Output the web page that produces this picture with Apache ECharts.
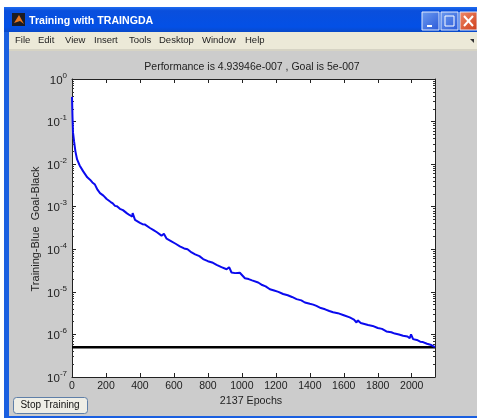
<!DOCTYPE html>
<html><head><meta charset="utf-8">
<style>html,body{margin:0;padding:0;background:#fff}#c{width:477px;height:420px;filter:blur(0.45px)}</style>
<script src="https://cdn.jsdelivr.net/npm/echarts@6/dist/echarts.min.js"></script>
</head><body><div id="c"></div>
<script>
const epochs = [0,3,6,12,20,30,45,66,76,90,106,120,135,150,165,185,204,228,240,253,265,282,300,310,322,340,355,357,371,400,415,430,459,480,500,527,541,557,580,610,635,660,680,704,725,750,772,800,825,851,880,910,925,939,960,988,1018,1040,1060,1096,1120,1140,1165,1190,1215,1243,1270,1295,1322,1350,1371,1400,1420,1439,1465,1490,1515,1537,1565,1600,1635,1645,1660,1675,1682,1700,1743,1770,1800,1825,1851,1880,1900,1925,1949,1975,1988,1996,2008,2030,2050,2066,2090,2115,2137];
const logPerf = [-0.42,-0.9,-1.26,-1.46,-1.7,-1.89,-2.03,-2.17,-2.21,-2.31,-2.365,-2.43,-2.48,-2.6,-2.68,-2.74,-2.82,-2.89,-2.92,-2.98,-2.99,-3.05,-3.08,-3.07,-3.15,-3.2,-3.23,-3.15,-3.31,-3.38,-3.41,-3.42,-3.5,-3.55,-3.6,-3.68,-3.635,-3.75,-3.8,-3.87,-3.93,-3.98,-4.0,-4.075,-4.12,-4.16,-4.23,-4.28,-4.31,-4.365,-4.42,-4.47,-4.42,-4.545,-4.56,-4.55,-4.68,-4.7,-4.73,-4.78,-4.84,-4.87,-4.94,-4.97,-5.0,-5.05,-5.08,-5.12,-5.17,-5.2,-5.25,-5.28,-5.3,-5.33,-5.38,-5.41,-5.45,-5.48,-5.5,-5.55,-5.6,-5.56,-5.65,-5.72,-5.67,-5.73,-5.78,-5.8,-5.85,-5.87,-5.93,-5.95,-5.98,-6.0,-6.03,-6.05,-6.09,-6.0,-6.11,-6.13,-6.17,-6.18,-6.22,-6.25,-6.3];
const goalEpochs = [0,2137];
const goalValues = [5e-7,5e-7];
const xTickValues = [0,200,400,600,800,1000,1200,1400,1600,1800,2000];
const titleText = 'Performance is 4.93946e-007 , Goal is 5e-007';
const xName = '2137 Epochs';
const yName = 'Training-Blue  Goal-Black';
const windowTitle = 'Training with TRAINGDA';
const stopLabel = 'Stop Training';
const menuLabels = ['File','Edit','View','Insert','Tools','Desktop','Window','Help'];
const menuLefts = [15,38,65,94,129,159,202,245];

const FONT = '"Liberation Sans", Arial, sans-serif';
const chart = echarts.init(document.getElementById('c'), null, {renderer:'canvas'});
const rect = (x,y,w,h,fill,extra) => Object.assign({type:'rect',shape:{x,y,width:w,height:h},style:{fill},z:-10,silent:true},extra||{});
const txt = (x,y,text,fontSize,fill,extra) => ({type:'text',x,y,z:5,silent:true,style:Object.assign({text,fontSize,fontFamily:FONT,fill,verticalAlign:'middle'},extra||{})});
const winBtn = (x,c1,c2) => rect(x,12,17,18,'#fff',{style:{stroke:'#dfe8fb',lineWidth:1,fill:{type:'linear',x:0,y:0,x2:1,y2:1,colorStops:[{offset:0,color:c1},{offset:1,color:c2}]}},z:1});

const chrome = [
  rect(4,7,473,411,'#1a5fe0'),
  rect(4,7,473,25,{type:'linear',x:0,y:0,x2:0,y2:1,colorStops:[{offset:0,color:'#1f6cf0'},{offset:0.15,color:'#0a4fdc'},{offset:0.8,color:'#0350e6'},{offset:1,color:'#0a49c8'}]}),
  rect(9,32,468,17,'#ece9d8'),
  rect(9,49,468,2,'#d6d3c4'),
  rect(9,51,468,365,'#cccccc'),
  rect(12,13,13,13,'#1c1c24',{z:1}),
  {type:'polygon',shape:{points:[[14,23],[19,15],[24,24],[20,21]]},style:{fill:'#e8761e'},z:2,silent:true},
  txt(29,21.5,windowTitle,10.6,'#ffffff',{fontWeight:'bold'}),
  winBtn(422,'#6d9cf0','#2a58d8'),
  rect(427,25,5,2,'#ffffff',{z:2}),
  winBtn(441,'#6d9cf0','#2a58d8'),
  {type:'rect',shape:{x:445,y:16,width:9,height:10},style:{fill:'none',stroke:'#ffffff',lineWidth:1},z:2,silent:true},
  winBtn(460,'#ee8a6a','#cf3d18'),
  {type:'polyline',shape:{points:[[464,16],[473,26]]},style:{stroke:'#fff',lineWidth:2,fill:'none'},z:2,silent:true},
  {type:'polyline',shape:{points:[[473,16],[464,26]]},style:{stroke:'#fff',lineWidth:2,fill:'none'},z:2,silent:true},
  {type:'polygon',shape:{points:[[470,39],[474,39],[474,43]]},style:{fill:'#333'},z:2,silent:true},
  {type:'rect',shape:{x:13.5,y:397.5,width:74,height:16,r:3},style:{fill:'#efeee6',stroke:'#5f7fa8',lineWidth:1},z:1,silent:true},
  txt(50,405.5,stopLabel,10,'#111',{align:'center'})
];
menuLabels.forEach((m,i)=>chrome.push(txt(menuLefts[i],40.5,m,9.5,'#222')));

const logTicks = v => '{b|10}{s|' + Math.round(Math.log10(v)) + '}';
const lineCol = '#222';
const logAxis = (position,labels) => ({
  type:'log',logBase:10,min:1e-7,max:1,position,splitNumber:7,
  axisLine:{show:true,onZero:false,lineStyle:{color:lineCol,width:1}},
  axisTick:{show:true,inside:true,length:4,lineStyle:{color:lineCol}},
  minorTick:{show:true,splitNumber:9,length:2,lineStyle:{color:'#333'}},
  splitLine:{show:false},minorSplitLine:{show:false},
  axisLabel:labels?{show:true,margin:5,formatter:logTicks,rich:{
    b:{fontSize:11.5,fontFamily:FONT,color:'#222',padding:[3,0,0,0]},
    s:{fontSize:8,fontFamily:FONT,color:'#222',verticalAlign:'top',padding:[0,0,6,0]}}}:{show:false}
});
const linAxis = (position,labels) => ({
  type:'value',min:0,max:2137,position,
  axisLine:{show:true,onZero:false,lineStyle:{color:lineCol,width:1}},
  axisTick:{show:true,inside:true,length:4,lineStyle:{color:lineCol},customValues:xTickValues},
  splitLine:{show:false},
  axisLabel:labels?{show:true,margin:4,fontSize:10.5,fontFamily:FONT,color:'#222',customValues:xTickValues,formatter:v=>String(v)}:{show:false}
});

chart.setOption({
  animation:false,
  backgroundColor:'#ffffff',
  title:{text:titleText,left:247,top:57,textAlign:'center',textStyle:{fontSize:10.5,fontWeight:'normal',fontFamily:FONT,color:'#222'}},
  grid:{left:72,right:42,top:79,bottom:43,show:true,backgroundColor:'#ffffff',borderWidth:0},
  xAxis:[linAxis('bottom',true),linAxis('top',false)],
  yAxis:[logAxis('left',true),logAxis('right',false)],
  graphic:{elements:chrome.concat([
    txt(251,401,xName,10.7,'#222',{align:'center'}),
    Object.assign(txt(35.5,229,yName,11,'#222',{align:'center'}),{rotation:Math.PI/2})
  ])},
  series:[
    {name:'Goal',type:'line',data:goalEpochs.map((e,i)=>[e,goalValues[i]]),showSymbol:false,symbol:'none',lineStyle:{color:'#000',width:2.6},z:2},
    {name:'Training',type:'line',data:epochs.map((e,i)=>[e,Math.pow(10,logPerf[i])]),showSymbol:false,symbol:'none',lineStyle:{color:'#0a0aee',width:2},z:3}
  ]
});
</script></body></html>
